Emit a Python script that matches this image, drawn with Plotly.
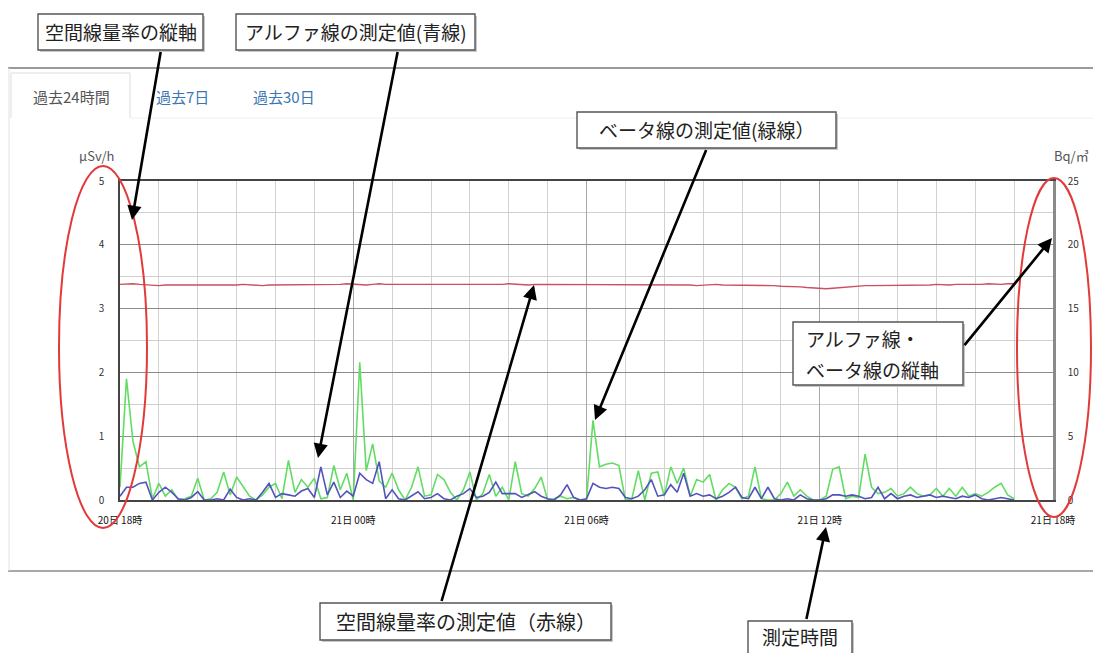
import pandas as pd
import plotly.graph_objects as go

# ---------------- data ----------------
start_time = "2024-01-20 18:00"
step_minutes = 10

beta_green = [1.0, 9.5, 4.6, 2.6, 3.0, 0.1, 1.3, 0.3, 0.8, 0.0,
              0.1, 0.3, 1.7, 0.0, 0.1, 0.6, 2.2, 0.4, 1.8, 1.1,
              0.3, 0.0, 0.4, 1.0, 1.3, 0.1, 3.1, 0.6, 1.6, 1.0,
              1.7, 0.1, 0.2, 2.7, 0.8, 2.1, 0.0, 10.8, 2.3, 4.4,
              1.5, 1.0, 2.1, 0.8, 0.0, 1.0, 2.6, 0.3, 0.4, 2.0,
              1.6, 0.6, 0.0, 0.8, 2.2, 0.0, 0.5, 2.0, 0.3, 1.0,
              0.0, 3.0, 0.5, 0.3, 0.9, 1.8, 0.0, 0.1, 0.3, 0.1,
              0.2, 0.0, 0.0, 6.25, 2.6, 2.8, 2.9, 2.7, 0.0, 0.1,
              2.3, 0.0, 2.1, 2.2, 0.3, 2.6, 1.3, 2.5, 0.3, 1.6,
              1.4, 2.0, 0.0, 0.8, 1.3, 1.0, 0.1, 0.3, 2.6, 0.1,
              0.0, 0.0, 0.5, 1.4, 0.3, 0.8, 0.3, 0.0, 0.0, 0.3,
              2.4, 2.6, 0.1, 0.3, 0.2, 3.6, 1.0, 0.5, 0.6, 0.9,
              0.3, 0.5, 1.0, 0.5, 0.3, 0.4, 0.9, 0.3, 0.9, 0.3,
              1.0, 0.3, 0.5, 0.3, 0.6, 1.0, 1.3, 0.4, 0.1]

alpha_blue = [0.3, 1.0, 1.0, 1.3, 1.4, 0.0, 0.6, 1.0, 0.6, 0.1,
              0.0, 0.2, 0.65, 0.0, 0.0, 0.1, 0.0, 0.85, 0.2, 0.0,
              0.1, 0.0, 0.6, 1.3, 0.2, 0.5, 0.4, 0.3, 0.7, 0.9,
              0.2, 2.6, 0.4, 1.4, 0.2, 0.7, 0.3, 2.1, 1.6, 1.3,
              3.0, 0.1, 0.8, 0.1, 0.0, 0.3, 0.65, 0.1, 0.2, 0.5,
              0.1, 0.0, 0.3, 0.5, 0.9, 0.2, 0.3, 0.6, 1.4, 0.5,
              0.5, 0.5, 0.2, 0.4, 0.65, 0.3, 0.1, 0.0, 0.4, 1.2,
              0.2, 0.0, 0.1, 1.3, 1.0, 0.9, 1.0, 0.9, 0.2, 0.1,
              0.3, 0.8, 1.6, 0.3, 0.4, 1.2, 0.6, 2.1, 0.3, 0.5,
              0.3, 0.4, 0.1, 0.3, 0.6, 1.0, 0.2, 0.1, 1.0, 0.1,
              1.0, 0.1, 0.0, 0.1, 0.0, 0.4, 0.1, 0.0, 0.0, 0.1,
              0.4, 0.4, 0.3, 0.4, 0.3, 0.1, 0.2, 1.0, 0.1, 0.5,
              0.1, 0.3, 0.4, 0.2, 0.3, 0.4, 0.2, 0.3, 0.2, 0.1,
              0.3, 0.2, 0.4, 0.1, 0.0, 0.1, 0.2, 0.1, 0.0]

dose_red = [3.38, 3.39, 3.39, 3.38, 3.37, 3.37, 3.36, 3.37, 3.37, 3.36,
            3.36, 3.37, 3.37, 3.36, 3.37, 3.37, 3.36, 3.36, 3.37, 3.38,
            3.37, 3.37, 3.36, 3.37, 3.37, 3.38, 3.38, 3.37, 3.37, 3.38,
            3.38, 3.37, 3.37, 3.38, 3.38, 3.39, 3.38, 3.38, 3.37, 3.38,
            3.39, 3.38, 3.38, 3.37, 3.37, 3.38, 3.38, 3.37, 3.37, 3.38,
            3.38, 3.37, 3.37, 3.38, 3.38, 3.38, 3.37, 3.37, 3.38, 3.38,
            3.39, 3.38, 3.37, 3.37, 3.38, 3.38, 3.37, 3.37, 3.38, 3.38,
            3.38, 3.37, 3.38, 3.38, 3.37, 3.37, 3.38, 3.38, 3.37, 3.38,
            3.38, 3.37, 3.37, 3.38, 3.37, 3.37, 3.38, 3.37, 3.37, 3.36,
            3.37, 3.37, 3.38, 3.37, 3.37, 3.36, 3.36, 3.37, 3.37, 3.36,
            3.36, 3.36, 3.35, 3.35, 3.34, 3.34, 3.33, 3.32, 3.31, 3.31,
            3.32, 3.33, 3.34, 3.35, 3.35, 3.36, 3.36, 3.36, 3.37, 3.37,
            3.37, 3.37, 3.36, 3.36, 3.37, 3.37, 3.38, 3.37, 3.37, 3.38,
            3.38, 3.37, 3.38, 3.38, 3.39, 3.38, 3.38, 3.39, 3.39]

x_tick_vals = ["2024-01-20 18:00", "2024-01-21 00:00", "2024-01-21 06:00",
               "2024-01-21 12:00", "2024-01-21 18:00"]
x_tick_text = ["20日 18時", "21日 00時", "21日 06時", "21日 12時", "21日 18時"]
left_ticks = [0, 1, 2, 3, 4, 5]
right_ticks = [0, 5, 10, 15, 20, 25]

times = pd.date_range(start_time, periods=len(beta_green), freq=f"{step_minutes}min")

# ---------------- layout helpers ----------------
OFF = 8                      # page body margin of the html page
W, H = 1101 - OFF, 653 - OFF
L, R, T, B = 120, 1053, 181, 500   # plot area in window pixels


def px(x):
    return (x - L) / (R - L)


def py(y):
    return (B - y) / (B - T)


FONT = "Noto Sans CJK JP"

fig = go.Figure()
fig.add_trace(go.Scatter(x=times, y=dose_red, mode="lines", yaxis="y",
                         line=dict(color="#cc4f5e", width=1.4), name="空間線量率"))
fig.add_trace(go.Scatter(x=times, y=beta_green, mode="lines", yaxis="y2",
                         line=dict(color="#62dc62", width=1.6), name="ベータ線"))
fig.add_trace(go.Scatter(x=times, y=alpha_blue, mode="lines", yaxis="y2",
                         line=dict(color="#5252bf", width=1.6), name="アルファ線"))

fig.update_layout(
    width=W, height=H,
    margin=dict(l=L - OFF, r=W - (R - OFF), t=T - OFF, b=H - (B - OFF)),
    paper_bgcolor="white", plot_bgcolor="white",
    showlegend=False,
    font=dict(family=FONT, size=10, color="#333"),
    xaxis=dict(
        type="date",
        range=[x_tick_vals[0], x_tick_vals[-1]],
        tickvals=x_tick_vals, ticktext=x_tick_text,
        showgrid=True, gridcolor="#a8a8a8", gridwidth=1.2,
        minor=dict(dtick=3600000, showgrid=True, gridcolor="#d2d2d2", gridwidth=1),
        showline=True, linecolor="#444", linewidth=1.5, mirror=True,
        ticks="", ticklabelstandoff=10,
        tickfont=dict(family=FONT, size=10, color="#111"),
        zeroline=False, fixedrange=True,
    ),
    yaxis=dict(
        range=[0, 5], tickvals=left_ticks,
        showgrid=True, gridcolor="#8c8c8c", gridwidth=1.4,
        minor=dict(dtick=0.5, showgrid=True, gridcolor="#cfcfcf", gridwidth=1),
        showline=True, linecolor="#444", linewidth=1.5,
        ticks="", ticklabelstandoff=12,
        tickfont=dict(family=FONT, size=10, color="#333"),
        zeroline=False,
    ),
    yaxis2=dict(
        range=[0, 25], tickvals=right_ticks, overlaying="y", side="right",
        showgrid=False, showline=True, linecolor="#8a8a8a", linewidth=2.5,
        ticks="", ticklabelstandoff=10,
        tickfont=dict(family=FONT, size=10, color="#333"),
        zeroline=False,
    ),
)

shapes = []
annotations = []


def hline(x0, x1, y, color, width):
    shapes.append(dict(type="line", xref="paper", yref="paper",
                       x0=px(x0), x1=px(x1), y0=py(y), y1=py(y),
                       line=dict(color=color, width=width), layer="above"))


def vline(x, y0, y1, color, width):
    shapes.append(dict(type="line", xref="paper", yref="paper",
                       x0=px(x), x1=px(x), y0=py(y0), y1=py(y1),
                       line=dict(color=color, width=width), layer="above"))


def text(x, y, s, size, color, xanchor="center", yanchor="middle"):
    annotations.append(dict(xref="paper", yref="paper", x=px(x), y=py(y),
                            text=s, showarrow=False, xanchor=xanchor,
                            yanchor=yanchor,
                            font=dict(family=FONT, size=size, color=color)))


# page frame
hline(8, 1101, 68, "#9a9a9a", 2)
hline(8, 1101, 571, "#a8a8a8", 2.2)
vline(9, 68, 571, "#e2e2e2", 1)
# active tab outline
vline(11, 73, 118, "#dddddd", 1)
hline(11, 130, 73, "#dddddd", 1)
vline(130, 73, 118, "#dddddd", 1)
hline(130, 1101, 118, "#eeeeee", 1)

# red ellipses
for (x0, y0, x1, y1) in [(59, 166, 147, 528), (1017, 178, 1091, 517)]:
    shapes.append(dict(type="circle", xref="paper", yref="paper",
                       x0=px(x0), x1=px(x1), y0=py(y1), y1=py(y0),
                       line=dict(color="#e23a3a", width=2), layer="above"))

# annotation boxes
boxes = [
    ((38, 14, 203, 50), "空間線量率の縦軸", 19, 32),
    ((236, 14, 475, 50), "アルファ線の測定値(青線)", 19, 32),
    ((577, 112, 836, 148), "ベータ線の測定値(緑線）", 19, 130),
    ((793, 322, 963, 385), None, 19, 0),
    ((320, 603, 611, 640), "空間線量率の測定値（赤線）", 20, 621),
    ((748, 621, 852, 664), "測定時間", 19, 636),
]
for (x0, y0, x1, y1), txt, fs, cy in boxes:
    shapes.append(dict(type="rect", xref="paper", yref="paper",
                       x0=px(x0 + 2), x1=px(x1 + 2), y0=py(y1 + 2), y1=py(y0 + 2),
                       line=dict(width=0), fillcolor="#c8c8c8", layer="above"))
    shapes.append(dict(type="rect", xref="paper", yref="paper",
                       x0=px(x0), x1=px(x1), y0=py(y1), y1=py(y0),
                       line=dict(color="#555555", width=1.4), fillcolor="white",
                       layer="above"))
    if txt:
        text((x0 + x1) / 2, cy, txt, fs, "#222")

text(804, 338, "アルファ線・", 19, "#222", xanchor="left")
text(804, 369, "ベータ線の縦軸", 19, "#222", xanchor="left")

# arrows (tail -> head)
arrows = [
    ((161, 50), (132, 220)),
    ((398, 50), (318, 458)),
    ((707, 148), (595, 420)),
    ((963, 347), (1052, 238)),
    ((441, 603), (534, 285)),
    ((806, 621), (826, 527)),
]
for (tx, ty), (hx, hy) in arrows:
    annotations.append(dict(xref="paper", yref="paper", x=px(hx), y=py(hy),
                            ax=tx - hx, ay=ty - hy, text=" ", showarrow=True,
                            arrowhead=2, arrowsize=1.1, arrowwidth=2.6,
                            arrowcolor="#000000", standoff=0, startstandoff=0,
                            font=dict(size=1)))

# tabs
text(71, 96, "過去24時間", 15, "#555")
text(182, 96, "過去7日", 15, "#3a76b4")
text(284, 96, "過去30日", 15, "#3a76b4")

# axis unit titles
text(96, 155, "µSv/h", 13, "#555")
text(1091, 155, "Bq/㎥", 13, "#555", xanchor="right")

fig.update_layout(shapes=shapes, annotations=annotations)
fig.write_html("out.html")
